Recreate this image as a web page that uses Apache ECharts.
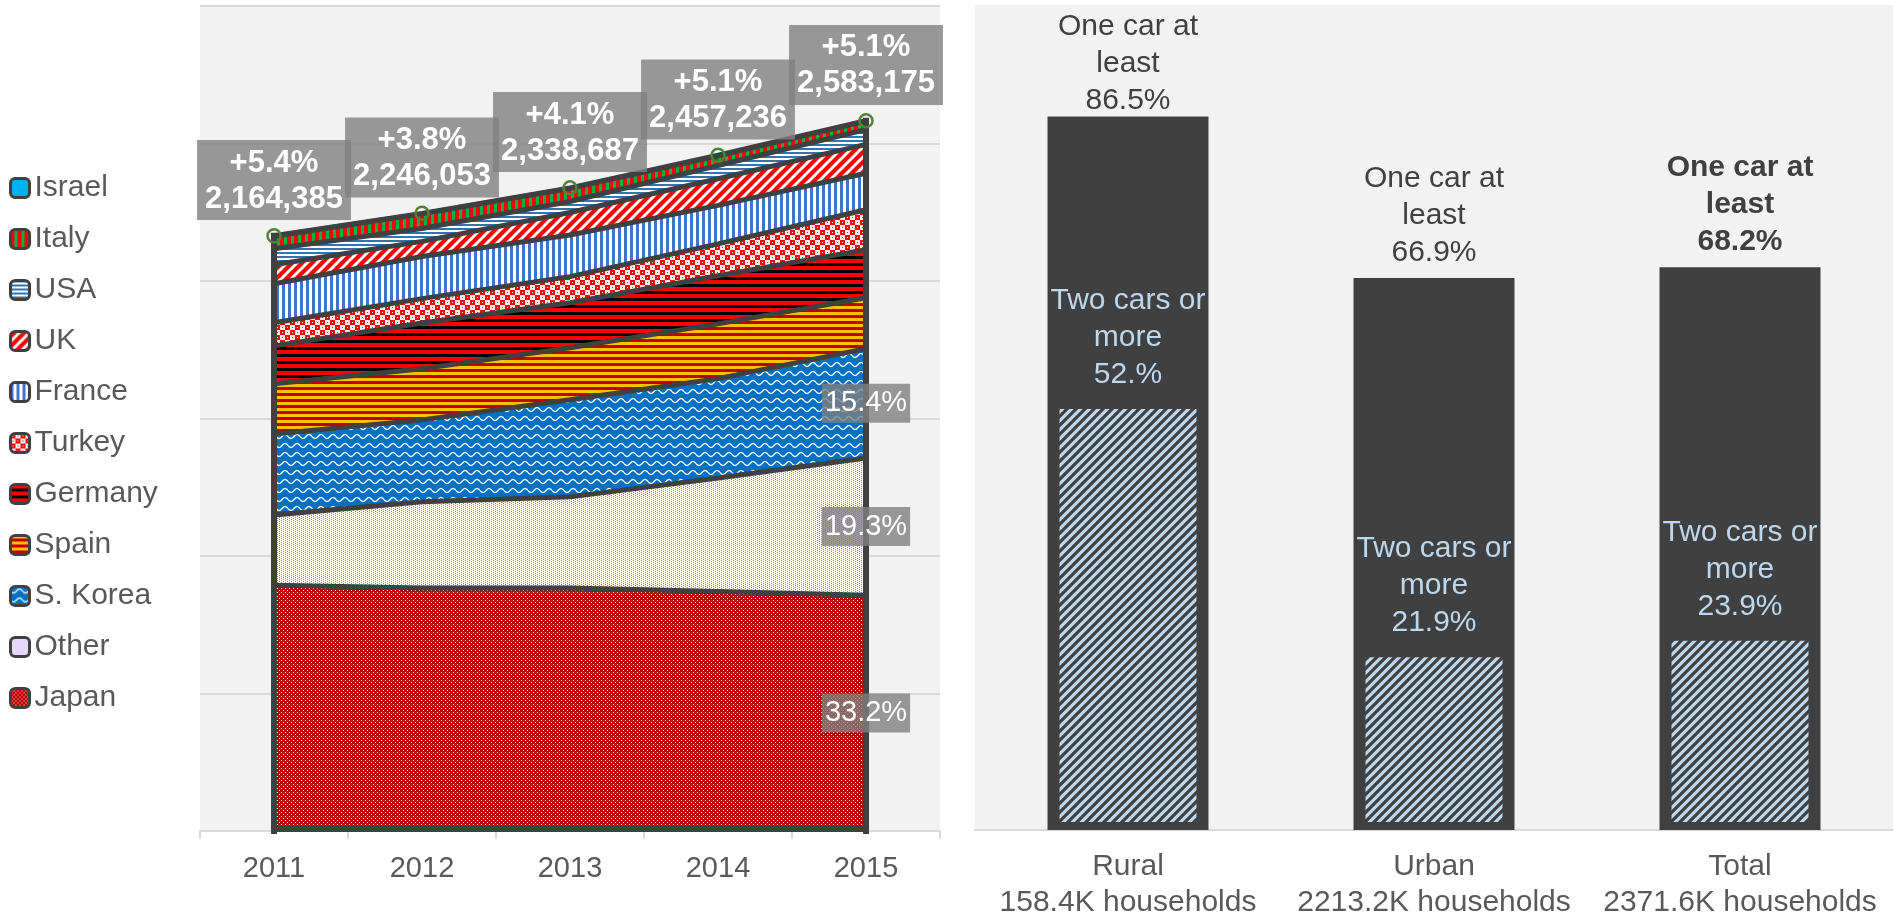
<!DOCTYPE html>
<html>
<head>
<meta charset="utf-8">
<script src="https://cdn.jsdelivr.net/npm/echarts@6/dist/echarts.min.js"></script>
<style>
html, body { margin: 0; padding: 0; background: #fff; }
#chart { width: 1897px; height: 921px; }
</style>
</head>
<body>
<div id="chart"></div>
<script>
// left chart: fleet by country of origin, stacked from the bottom
var years = ['2011', '2012', '2013', '2014', '2015'];
var totals = [2164385, 2246053, 2338687, 2457236, 2583175];
var growth = ['+5.4%', '+3.8%', '+4.1%', '+5.1%', '+5.1%'];

var japan   = [894000, 884000, 884000, 871000, 857600];
var other   = [255000, 313000, 331000, 413000, 498600];
var korea   = [295000, 298000, 353000, 361000, 397800];
var spain   = [182000, 186000, 189000, 199000, 185000];
var germany = [138000, 166000, 164000, 175000, 175000];
var turkey  = [84000, 89000, 95000, 116000, 145000];
var france  = [142000, 153000, 151000, 140000, 133000];
var uk      = [69000, 55000, 82000, 97000, 105000];
var usa     = [58000, 47000, 40000, 48000, 54000];
var italy   = [45400, 53000, 47700, 35200, 30200];
var israel  = [2000, 2000, 2000, 2000, 2000];

// right chart: households with cars
var areas = ['Rural', 'Urban', 'Total'];
var households = ['158.4K households', '2213.2K households', '2371.6K households'];
var oneCar = [86.5, 66.9, 68.2];
var twoCars = [52, 21.9, 23.9];
var twoCarsText = ['52.%', '21.9%', '23.9%'];

var FONT = '"Liberation Sans", Arial, sans-serif';
var DARK = '#404040';

// small canvas tiles used as pattern fills
function tile(w, h, draw) {
    var c = document.createElement('canvas');
    c.width = w;
    c.height = h;
    var g = c.getContext('2d');
    draw(g, w, h);
    return { image: c, repeat: 'repeat' };
}
function dots(bg, fg) {
    return tile(4, 4, function (g) {
        g.fillStyle = bg; g.fillRect(0, 0, 4, 4);
        g.fillStyle = fg;
        g.fillRect(1, 0, 1, 1);
        g.fillRect(3, 2, 1, 1);
    });
}
function hStripes(a, na, b, nb) {
    return tile(1, na + nb, function (g) {
        g.fillStyle = a; g.fillRect(0, 0, 1, na);
        g.fillStyle = b; g.fillRect(0, na, 1, nb);
    });
}
function vStripes(a, na, b, nb) {
    return tile(na + nb, 1, function (g) {
        g.fillStyle = a; g.fillRect(0, 0, na, 1);
        g.fillStyle = b; g.fillRect(na, 0, nb, 1);
    });
}
function diag(bg, fg, size, lw) {
    return tile(size, size, function (g) {
        g.fillStyle = bg; g.fillRect(0, 0, size, size);
        g.strokeStyle = fg; g.lineWidth = lw;
        g.beginPath();
        g.moveTo(-size, size); g.lineTo(size, -size);
        g.moveTo(0, size); g.lineTo(size, 0);
        g.moveTo(0, 2 * size); g.lineTo(2 * size, 0);
        g.stroke();
    });
}

var patterns = {
    Japan: dots('#c00000', '#ffffff'),
    Other: tile(4, 4, function (g) {
        g.fillStyle = '#ffffff'; g.fillRect(0, 0, 4, 4);
        g.fillStyle = '#9966ff';
        g.fillRect(1, 0, 1, 1); g.fillRect(1, 2, 1, 1);
        g.fillRect(3, 1, 1, 1); g.fillRect(3, 3, 1, 1);
    }),
    'S. Korea': tile(12, 9, function (g) {
        g.fillStyle = '#0070c0'; g.fillRect(0, 0, 12, 9);
        g.strokeStyle = '#ffffff'; g.lineWidth = 1.3;
        g.beginPath();
        for (var x = 0; x <= 12; x += 0.5) {
            var y = 4.5 + 2 * Math.sin(x / 12 * 2 * Math.PI);
            if (x === 0) g.moveTo(x, y); else g.lineTo(x, y);
        }
        g.stroke();
    }),
    Spain: hStripes('#ffc000', 3, '#c00000', 3),
    Germany: hStripes('#ff0000', 4, '#000000', 3),
    Turkey: tile(10, 10, function (g) {
        g.fillStyle = '#f2f2f2'; g.fillRect(0, 0, 10, 10);
        g.fillStyle = '#ff0000'; g.fillRect(0, 0, 5, 5); g.fillRect(5, 5, 5, 5);
        g.fillStyle = '#ffffff'; g.fillRect(2, 2, 1, 1); g.fillRect(7, 7, 1, 1);
        g.fillStyle = '#ff0000'; g.fillRect(7, 2, 1, 1); g.fillRect(2, 7, 1, 1);
    }),
    France: vStripes('#4472c4', 3, '#ffffff', 3),
    UK: diag('#ff0000', '#ffffff', 10, 3),
    USA: hStripes('#2e75b6', 2, '#ffffff', 2),
    Italy: vStripes('#ff0000', 4, '#00b050', 3),
    Israel: '#00b0f0'
};
var hatch = diag('#bdd7ee', DARK, 9, 3.2);

var stackNames = ['Japan', 'Other', 'S. Korea', 'Spain', 'Germany', 'Turkey',
    'France', 'UK', 'USA', 'Italy', 'Israel'];
var stackData = [japan, other, korea, spain, germany, turkey, france, uk, usa, italy, israel];

var areaSeries = stackNames.map(function (name, k) {
    return {
        name: name,
        type: 'line',
        stack: 'fleet',
        xAxisIndex: 0,
        yAxisIndex: 0,
        data: stackData[k],
        z: 20 - k,
        showSymbol: false,
        symbol: 'none',
        lineStyle: { color: DARK, width: 5 },
        itemStyle: { color: patterns[name] },
        areaStyle: { color: patterns[name], opacity: 1 },
        emphasis: { disabled: true }
    };
});

// share labels at the 2015 end of the three biggest bands
var last = years.length - 1;
var pctMarks = [];
var base = 0;
for (var k = 0; k < 3; k++) {
    var v = stackData[k][last];
    pctMarks.push({
        name: (v / totals[last] * 100).toFixed(1) + '%',
        coord: [last, base + v / 2]
    });
    base += v;
}

var option = {
    animation: false,
    textStyle: { fontFamily: FONT },
    legend: {
        data: stackNames.slice().reverse(),
        orient: 'vertical',
        left: 4,
        top: 168,
        padding: 5,
        itemGap: 21,
        itemWidth: 19,
        itemHeight: 19,
        icon: 'roundRect',
        selectedMode: false,
        itemStyle: { borderColor: DARK, borderWidth: 3 },
        textStyle: { color: '#595959', fontSize: 30, lineHeight: 30, fontFamily: FONT }
    },
    grid: [
        { left: 200, top: 6, width: 740, height: 825, show: true,
          backgroundColor: '#f2f2f2', borderWidth: 0 },
        { left: 975, top: 5, width: 918, height: 826, show: true,
          backgroundColor: '#f2f2f2', borderWidth: 0 }
    ],
    xAxis: [
        {
            type: 'category', gridIndex: 0, data: years, boundaryGap: true,
            axisLine: { lineStyle: { color: '#d9d9d9', width: 2 } },
            axisTick: { show: true, interval: 0, length: 8, lineStyle: { color: '#d9d9d9', width: 2 } },
            axisLabel: { color: '#595959', fontSize: 29, margin: 23 }
        },
        {
            type: 'category', gridIndex: 1,
            data: areas.map(function (a, i) { return a + '\n' + households[i]; }),
            axisLine: { lineStyle: { color: '#d9d9d9', width: 2 } },
            axisTick: { show: false },
            axisLabel: { color: '#595959', fontSize: 30, lineHeight: 36, margin: 19, interval: 0 }
        },
        { type: 'category', gridIndex: 1, data: areas, show: false }
    ],
    yAxis: [
        {
            type: 'value', gridIndex: 0, min: 0, max: 3000000, interval: 500000,
            axisLine: { show: false }, axisTick: { show: false }, axisLabel: { show: false },
            splitLine: { lineStyle: { color: '#d9d9d9', width: 2 } }
        },
        { type: 'value', gridIndex: 1, min: 0, max: 100, show: false }
    ],
    series: areaSeries.concat([
        {
            // outline of the stacked block: both ends and the base
            type: 'custom',
            xAxisIndex: 0,
            yAxisIndex: 0,
            z: 25,
            silent: true,
            data: totals.map(function (t, i) { return [i, t]; }),
            renderItem: function (params, api) {
                var i = api.value(0);
                var children = [];
                var style = { stroke: DARK, lineWidth: 6, lineCap: 'square' };
                if (i === 0 || i === last) {
                    var p0 = api.coord([i, 0]);
                    var p1 = api.coord([i, api.value(1)]);
                    children.push({ type: 'line', shape: { x1: p0[0], y1: p0[1], x2: p1[0], y2: p1[1] }, style: style });
                }
                if (i === 0) {
                    var a = api.coord([0, 0]);
                    var b = api.coord([last, 0]);
                    children.push({ type: 'line', shape: { x1: a[0], y1: a[1] - 2, x2: b[0], y2: b[1] - 2 }, style: style });
                }
                return { type: 'group', children: children };
            }
        },
        {
            name: 'Total',
            type: 'line',
            xAxisIndex: 0,
            yAxisIndex: 0,
            data: totals,
            z: 30,
            symbol: 'circle',
            symbolSize: 13,
            lineStyle: { width: 0, opacity: 0 },
            itemStyle: { color: 'rgba(0,0,0,0)', borderColor: '#548235', borderWidth: 2.5 },
            emphasis: { disabled: true },
            label: {
                show: true,
                position: 'top',
                distance: 8,
                formatter: function (p) {
                    return growth[p.dataIndex] + '\n' + totals[p.dataIndex].toLocaleString('en-US');
                },
                color: '#ffffff',
                fontWeight: 'bold',
                fontSize: 31,
                lineHeight: 36,
                backgroundColor: 'rgba(128,128,128,0.8)',
                padding: [5, 8, 3, 8]
            },
            markPoint: {
                z: 50,
                symbol: 'rect',
                symbolSize: 1,
                itemStyle: { color: 'rgba(0,0,0,0)' },
                label: {
                    show: true,
                    position: 'inside',
                    formatter: '{b}',
                    color: '#ffffff',
                    fontSize: 29,
                    lineHeight: 32,
                    backgroundColor: 'rgba(128,128,128,0.8)',
                    padding: [4, 3, 3, 3]
                },
                data: pctMarks
            }
        },
        {
            name: 'One car at least',
            type: 'bar',
            xAxisIndex: 1,
            yAxisIndex: 1,
            barWidth: 161,
            z: 3,
            itemStyle: { color: DARK },
            emphasis: { disabled: true },
            data: oneCar.map(function (v, i) {
                var item = { value: v };
                if (i === 0) item.label = { distance: -3 };
                if (i === 2) item.label = { fontWeight: 'bold' };
                return item;
            }),
            label: {
                show: true,
                position: 'top',
                distance: 7,
                formatter: function (p) { return 'One car at\nleast\n' + p.value + '%'; },
                color: DARK,
                fontSize: 30,
                lineHeight: 37
            }
        },
        {
            name: 'Two cars or more',
            type: 'bar',
            xAxisIndex: 2,
            yAxisIndex: 1,
            barWidth: 153,
            z: 4,
            itemStyle: { color: hatch, borderColor: DARK, borderWidth: 8 },
            emphasis: { disabled: true },
            data: twoCars,
            label: {
                show: true,
                position: 'top',
                distance: 8,
                formatter: function (p) { return 'Two cars or\nmore\n' + twoCarsText[p.dataIndex]; },
                color: '#bdd7ee',
                fontSize: 30,
                lineHeight: 37
            }
        }
    ])
};

var chart = echarts.init(document.getElementById('chart'));
chart.setOption(option);
</script>
</body>
</html>
